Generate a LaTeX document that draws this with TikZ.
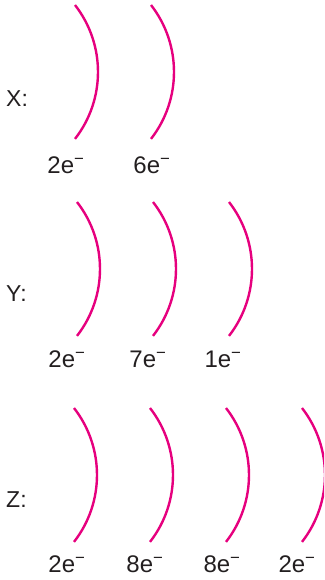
\documentclass[tikz,border=0pt]{standalone}
\usepackage{fontspec}
\setmainfont{Liberation Sans}
\definecolor{shellpink}{RGB}{230,0,126}
\definecolor{txt}{RGB}{35,31,32}
\begin{document}
\begin{tikzpicture}[x=1pt,y=1pt,
  shell/.style={draw=shellpink,line width=2.4pt},
  elab/.style={font=\fontsize{24}{28}\selectfont,text=txt,inner sep=0pt},
  atomlab/.style={font=\fontsize{23}{27}\selectfont,text=txt,inner sep=0pt,anchor=west}]
\useasboundingbox (0,0) rectangle (324,-580);
\clip (0,0) rectangle (324,-580);
% X
\node[atomlab] (xl) at (6,-99) {X:};
\draw[shell] (75,-5) arc[start angle=37.9,end angle=-37.9,radius=109];
\draw[shell] (151,-5) arc[start angle=37.9,end angle=-37.9,radius=109];
\node[elab] (x1) at (66,-165) {2e\textsuperscript{−}};
\node[elab] (x2) at (152,-165) {6e\textsuperscript{−}};
% Y
\node[atomlab] (yl) at (6,-294) {Y:};
\draw[shell] (77,-202) arc[start angle=37.9,end angle=-37.9,radius=109];
\draw[shell] (153,-202) arc[start angle=37.9,end angle=-37.9,radius=109];
\draw[shell] (229,-202) arc[start angle=37.9,end angle=-37.9,radius=109];
\node[elab] (y1) at (67,-359) {2e\textsuperscript{−}};
\node[elab] (y2) at (148,-359) {7e\textsuperscript{−}};
\node[elab] (y3) at (223,-359) {1e\textsuperscript{−}};
% Z
\node[atomlab] (zl) at (6,-500) {Z:};
\draw[shell] (74,-408) arc[start angle=37.9,end angle=-37.9,radius=109];
\draw[shell] (150,-408) arc[start angle=37.9,end angle=-37.9,radius=109];
\draw[shell] (226,-408) arc[start angle=37.9,end angle=-37.9,radius=109];
\draw[shell] (302,-408) arc[start angle=37.9,end angle=-37.9,radius=109];
\node[elab] (z1) at (67,-564) {2e\textsuperscript{−}};
\node[elab] (z2) at (145,-564) {8e\textsuperscript{−}};
\node[elab] (z3) at (222,-564) {8e\textsuperscript{−}};
\node[elab] (z4) at (297,-564) {2e\textsuperscript{−}};
\end{tikzpicture}
\end{document}
